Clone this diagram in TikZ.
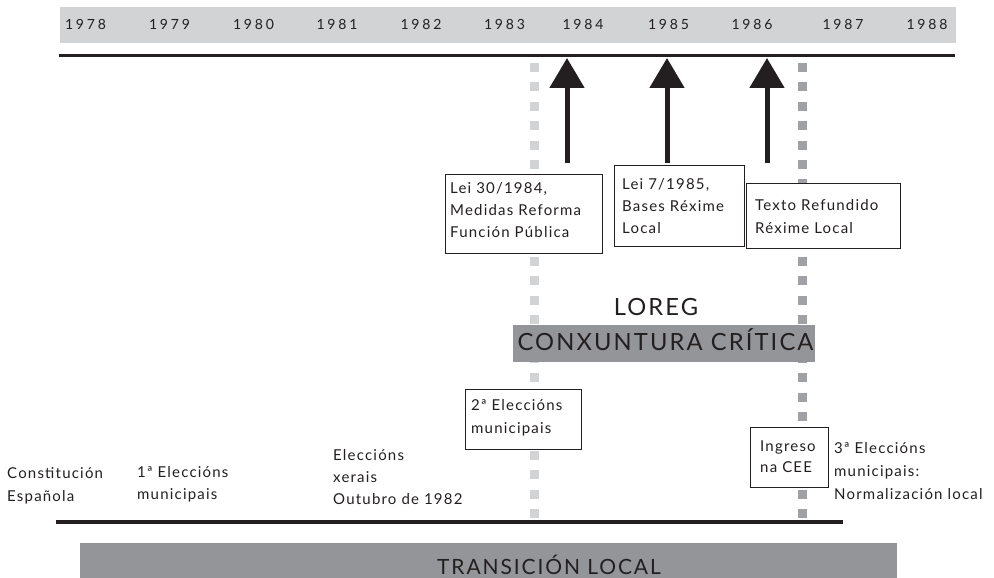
\documentclass[tikz,border=0pt]{standalone}
\usepackage{fontspec}
\setmainfont{Lato}[LetterSpace=8]
\newfontfamily\yearfont{Lato}[LetterSpace=20]
\newfontfamily\bigfont{Lato}[LetterSpace=9]
\usetikzlibrary{arrows.meta}
\definecolor{ink}{HTML}{231F20}
\definecolor{lightband}{HTML}{D1D3D4}
\definecolor{darkband}{HTML}{939598}
\definecolor{darkdot}{HTML}{9FA1A4}
\begin{document}
\begin{tikzpicture}[x=1pt,y=-1pt,
  yearlbl/.style={font=\yearfont\fontsize{14}{14}\selectfont, text=ink, inner sep=0, anchor=base},
  lbl/.style={font=\fontsize{15}{22}\selectfont, text=ink, inner sep=0, anchor=base west},
  bigtxt/.style={font=\bigfont\fontsize{23.7}{24}\selectfont, text=ink, inner sep=0, anchor=base},
  boxnode/.style={draw=ink, line width=0.9pt, fill=white, inner sep=0, anchor=north west},
  bandnode/.style={fill=#1, draw=none, inner sep=0, anchor=north west},
  dots/.style={line width=9pt, dash pattern=on 9pt off 10.4pt, draw=#1},
  uparrow/.style={draw=ink, line width=5pt, -{Triangle[width=34pt,length=30pt]}},
  rule/.style={draw=ink, line width=#1}
]
\useasboundingbox (0,0) rectangle (994,578);

% top band with years
\node[bandnode=lightband, minimum width=896pt, minimum height=36pt] (yearband) at (60,7) {};
\foreach \yr/\cx in {1978/85.5,1979/169.5,1980/253.5,1981/337,1982/421,1983/504.5,1984/583,1985/668.5,1986/752,1987/843,1988/927}{
  \node[yearlbl] (y\yr) at (\cx,30) {\yr};
}

% dotted vertical lines
\coordinate (d1top) at (534,63);
\coordinate (d1bot) at (534,519);
\coordinate (d2top) at (802,63);
\coordinate (d2bot) at (802,519);
\draw[dots=lightband] (d1top) -- (d1bot);
\draw[dots=darkdot] (d2top) -- (d2bot);

% top and bottom rules
\coordinate (tl) at (59,55.75);
\coordinate (tr) at (955,55.75);
\draw[rule=3.5pt] (tl) -- (tr);
\coordinate (bl) at (56,522);
\coordinate (br) at (843,522);
\draw[rule=4pt] (bl) -- (br);

% arrows
\foreach \n/\ax in {1/567,2/667,3/767}{
  \coordinate (a\n s) at (\ax,163);
  \coordinate (a\n e) at (\ax,58);
  \draw[uparrow] (a\n s) -- (a\n e);
}

% boxes
\node[boxnode, minimum width=157pt, minimum height=79pt] (box1) at (445,174) {};
\node[lbl] (box1a) at (450,193) {Lei 30/1984,};
\node[lbl] (box1b) at (450,215.5) {Medidas Reforma};
\node[lbl] (box1c) at (450,237.5) {Función Pública};

\node[boxnode, minimum width=130pt, minimum height=81pt] (box2) at (614,165) {};
\node[lbl] (box2a) at (622,189) {Lei 7/1985,};
\node[lbl] (box2b) at (622,211) {Bases Réxime};
\node[lbl] (box2c) at (622,233) {Local};

\node[boxnode, minimum width=154pt, minimum height=65pt] (box3) at (746,183) {};
\node[lbl] (box3a) at (755,210) {Texto Refundido};
\node[lbl] (box3b) at (755,233) {Réxime Local};

% LOREG and critical juncture band
\node[bigtxt] (loreg) at (656,315) {LOREG};
\node[bandnode=darkband, minimum width=302pt, minimum height=37pt] (cband) at (513,325) {};
\node[bigtxt] (ctxt) at (665.5,350) {CONXUNTURA CRÍTICA};

% second elections box
\node[boxnode, minimum width=116pt, minimum height=60pt] (box4) at (465,389) {};
\node[lbl] (box4a) at (471,410.5) {2ª Eleccións};
\node[lbl] (box4b) at (471,433) {municipais};

% CEE box
\node[boxnode, minimum width=78pt, minimum height=60pt] (box5) at (750,427) {};
\node[lbl] (box5a) at (760,451) {Ingreso};
\node[lbl] (box5b) at (760,472.5) {na CEE};

% third elections
\node[lbl] (e3a) at (834,453) {3ª Eleccións};
\node[lbl] (e3b) at (834,476.5) {municipais:};
\node[lbl] (e3c) at (834,499) {Normalización local};

% left labels
\node[lbl] (consa) at (7,478) {Constitución};
\node[lbl] (consb) at (7,501) {Española};
\node[lbl] (e1a) at (137,477) {1ª Eleccións};
\node[lbl] (e1b) at (137,499) {municipais};
\node[lbl] (xa) at (333,460) {Eleccións};
\node[lbl] (xb) at (333,482) {xerais};
\node[lbl] (xc) at (333,504) {Outubro de 1982};

% bottom band
\node[bandnode=darkband, minimum width=817pt, minimum height=36pt] (tband) at (80,543) {};
\node[bigtxt, font=\bigfont\fontsize{21}{21}\selectfont] (ttxt) at (549,574.5) {TRANSICIÓN LOCAL};
\end{tikzpicture}
\end{document}
